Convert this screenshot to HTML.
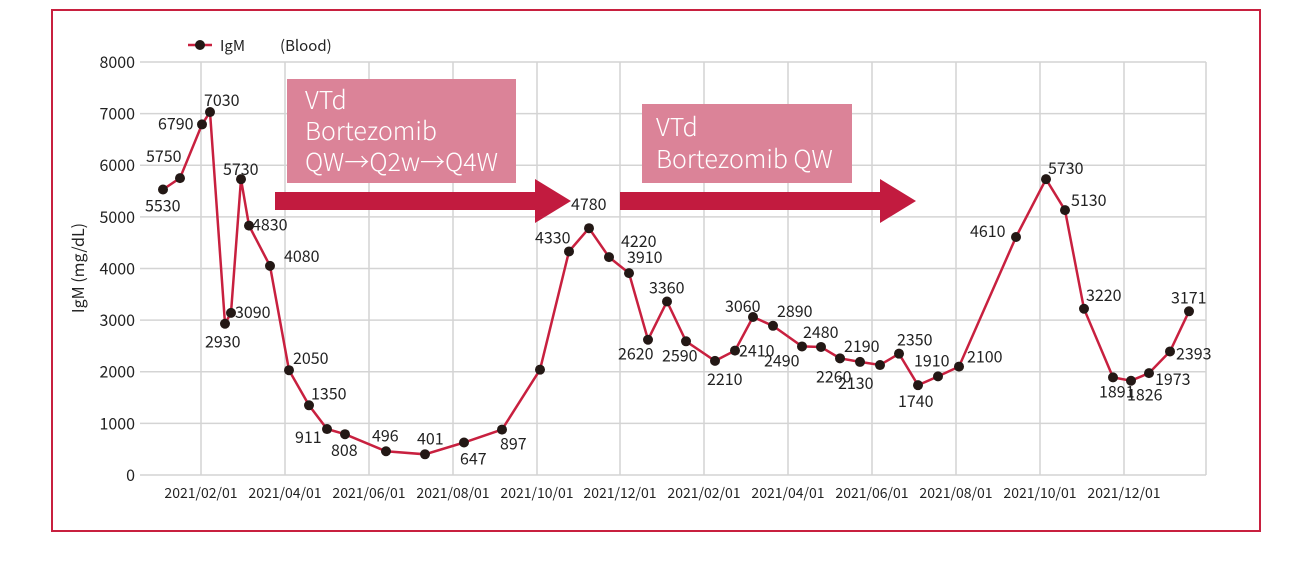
<!DOCTYPE html>
<html><head><meta charset="utf-8"><style>
html,body{margin:0;padding:0;background:#fff;}
svg{display:block;font-family:"Noto Sans CJK JP","Liberation Sans",sans-serif;}
</style></head><body>
<svg id="c" width="1312" height="561" xmlns="http://www.w3.org/2000/svg">
<rect x="52" y="10" width="1208" height="521" fill="#fff" stroke="#c8203f" stroke-width="2"/>
<g id="grid" stroke="#d4d4d4" stroke-width="1.5"></g>
<g id="yl" font-size="16" fill="#222" text-anchor="end"></g>
<g id="xl" font-size="14" fill="#222" text-anchor="middle"></g>
<text transform="translate(84,268) rotate(-90)" font-size="16" fill="#222" text-anchor="middle">IgM (mg/dL)</text>
<line x1="188" y1="45" x2="212" y2="45" stroke="#c8203f" stroke-width="2.5"/>
<circle cx="200" cy="45" r="5" fill="#231815"/>
<text x="220" y="51" font-size="15" fill="#222">IgM</text>
<text x="280" y="51" font-size="15" fill="#222">(Blood)</text>
<rect x="287" y="79" width="229" height="104" fill="#db8398"/>
<text font-size="25" font-weight="300" fill="#fff"><tspan x="305" y="109">VTd</tspan><tspan x="305" y="140">Bortezomib</tspan><tspan x="305" y="171">QW→Q2w→Q4W</tspan></text>
<rect x="642" y="104" width="210" height="79" fill="#db8398"/>
<text font-size="25" font-weight="300" fill="#fff"><tspan x="656" y="136">VTd</tspan><tspan x="656" y="168">Bortezomib QW</tspan></text>
<polygon points="275,192 535,192 535,179 571,201 535,223 535,210 275,210" fill="#c21b3f"/>
<polygon points="620,192 880,192 880,179 916,201 880,223 880,210 620,210" fill="#c21b3f"/>
<polyline id="ln" fill="none" stroke="#c8203f" stroke-width="2.5"/>
<g id="pts" fill="#231815"></g>
<g id="lb" font-size="16" fill="#222"></g>
</svg>
<script>
var ns="http://www.w3.org/2000/svg";
function el(p,t,a,txt){var e=document.createElementNS(ns,t);for(var k in a)e.setAttribute(k,a[k]);if(txt!==undefined)e.textContent=txt;document.getElementById(p).appendChild(e);return e;}
function Y(v){return 475-v*0.05163;}
for(var i=0;i<=8;i++){var y=Y(i*1000);el("grid","line",{x1:140,x2:1206,y1:y,y2:y});el("yl","text",{x:135,y:y+6},String(i*1000));}
var xs=[201,285,369,453,537,620,704,788,872,956,1040,1124];
var xn=["2021/02/01","2021/04/01","2021/06/01","2021/08/01","2021/10/01","2021/12/01","2021/02/01","2021/04/01","2021/06/01","2021/08/01","2021/10/01","2021/12/01"];
xs.forEach(function(x,i){el("grid","line",{x1:x,x2:x,y1:Y(8000),y2:Y(0)});el("xl","text",{x:x,y:498},xn[i]);});
el("grid","line",{x1:1206,x2:1206,y1:Y(8000),y2:Y(0)});
var d=[[163,5530,"5530",-18,22],[180,5750,"5750",-34,-16],[202,6790,"6790",-44,5],[210,7030,"7030",-6,-6],
[225,2930,"2930",-20,24],[231,3140,"3090",4,5],[241,5730,"5730",-18,-4],[249,4830,"4830",3,5],
[270,4050,"4080",14,-4],[289,2030,"2050",4,-6],[309,1350,"1350",2,-6],[327,890,"911",-32,14],
[345,790,"808",-14,22],[386,460,"496",-14,-10],[425,401,"401",-8,-10],[464,630,"647",-4,22],
[502,880,"897",-2,20],[540,2040,"",0,0],[569,4330,"4330",-34,-8],[589,4780,"4780",-18,-18],
[609,4220,"4220",12,-10],[629,3910,"3910",-2,-10],[648,2620,"2620",-30,20],[667,3360,"3360",-18,-8],
[686,2590,"2590",-24,20],[715,2210,"2210",-8,24],[735,2410,"2410",4,6],[753,3060,"3060",-28,-5],
[773,2890,"2890",4,-9],[802,2490,"2490",-38,20],[821,2480,"2480",-18,-9],[840,2260,"2260",-24,24],
[860,2190,"2190",-16,-10],[880,2130,"2130",-42,24],[899,2350,"2350",-2,-8],[918,1740,"1740",-20,22],
[938,1910,"1910",-24,-10],[959,2100,"2100",8,-4],[1016,4610,"4610",-46,0],[1046,5730,"5730",2,-5],
[1065,5130,"5130",6,-4],[1084,3220,"3220",2,-8],[1113,1891,"1891",-14,20],[1131,1826,"1826",-4,20],
[1149,1973,"1973",6,12],[1170,2393,"2393",6,8],[1189,3171,"3171",-18,-8]];
var pts=d.map(function(p){return p[0]+","+Y(p[1]).toFixed(1);}).join(" ");
document.getElementById("ln").setAttribute("points",pts);
d.forEach(function(p){var y=Y(p[1]);el("pts","circle",{cx:p[0],cy:y,r:5});if(p[2])el("lb","text",{x:p[0]+p[3],y:y+p[4]},p[2]);});
</script>
</body></html>
